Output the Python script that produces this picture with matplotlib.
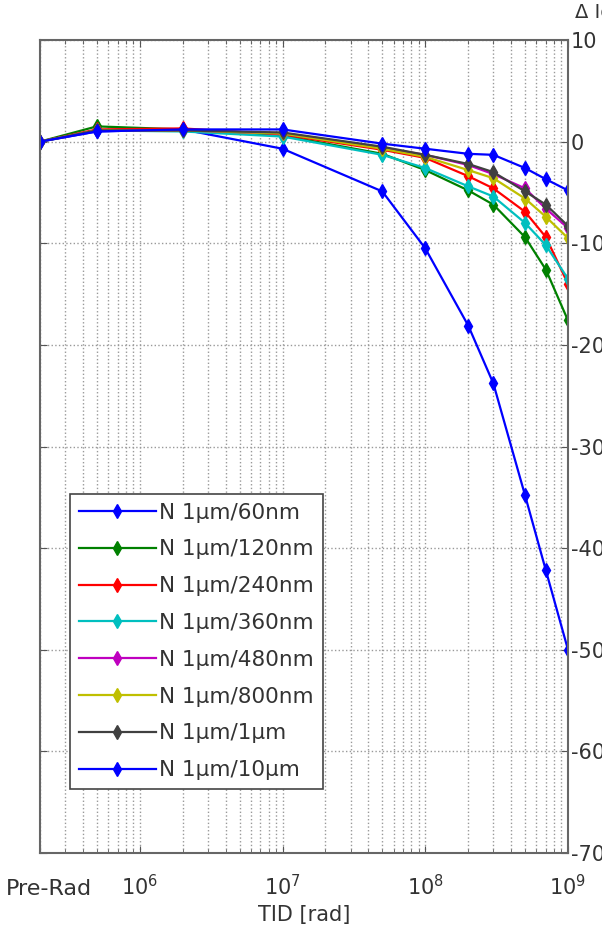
import matplotlib.pyplot as plt
import matplotlib.transforms as mtransforms
from matplotlib.ticker import FixedLocator, LogLocator, NullFormatter

plt.rcParams["axes.unicode_minus"] = False

# TID doses [rad]; 2e5 stands in for the Pre-Rad point at the left edge
tid = [2e5, 5e5, 2e6, 1e7, 5e7, 1e8, 2e8, 3e8, 5e8, 7e8, 1e9]

labels = ["N 1\u00b5m/60nm", "N 1\u00b5m/120nm", "N 1\u00b5m/240nm", "N 1\u00b5m/360nm",
          "N 1\u00b5m/480nm", "N 1\u00b5m/800nm", "N 1\u00b5m/1\u00b5m", "N 1\u00b5m/10\u00b5m"]

d_60nm = [0, 1.0, 1.2, -0.7, -4.9, -10.5, -18.1, -23.8, -34.8, -42.2, -50.0]
d_120nm = [0, 1.5, 1.2, 0.6, -1.2, -2.8, -4.8, -6.2, -9.4, -12.6, -17.6]
d_240nm = [0, 1.2, 1.3, 0.7, -0.8, -1.6, -3.4, -4.6, -6.9, -9.4, -14.0]
d_360nm = [0, 1.1, 1.0, 0.5, -1.3, -2.6, -4.4, -5.4, -8.0, -10.2, -13.5]
d_480nm = [0, 1.1, 1.1, 0.8, -0.6, -1.3, -2.3, -3.2, -4.6, -6.6, -8.5]
d_800nm = [0, 1.1, 1.1, 0.8, -0.7, -1.5, -2.8, -3.6, -5.6, -7.4, -9.5]
d_1um = [0, 1.1, 1.1, 0.9, -0.5, -1.3, -2.2, -3.0, -4.9, -6.2, -8.3]
d_10um = [0, 1.0, 1.2, 1.2, -0.2, -0.7, -1.2, -1.3, -2.6, -3.7, -4.8]

series = [d_60nm, d_120nm, d_240nm, d_360nm, d_480nm, d_800nm, d_1um, d_10um]
colors = [(0, 0, 1), (0, 0.5, 0), (1, 0, 0), (0, 0.75, 0.75),
          (0.75, 0, 0.75), (0.75, 0.75, 0), (0.25, 0.25, 0.25), (0, 0, 1)]

xticks = [2e5, 1e6, 1e7, 1e8, 1e9]
xticklabels = ["Pre-Rad", r"$10^6$", r"$10^7$", r"$10^8$", r"$10^9$"]
yticks = [10, 0, -10, -20, -30, -40, -50, -60, -70]

fig = plt.figure(figsize=(6.02, 9.43), dpi=100)
ax = fig.add_axes([40 / 602, 90 / 943, 528 / 602, 813 / 943])

for y, lab, c in zip(series, labels, colors):
    ax.plot(tid, y, "-", color=c, lw=1.6, marker="d", ms=7, mec=c, mfc=c, label=lab)

ax.set_xscale("log")
ax.set_xlim(2e5, 1e9)
ax.set_ylim(-70, 10)

ax.xaxis.set_major_locator(FixedLocator(xticks))
ax.set_xticklabels(xticklabels)
ax.xaxis.set_minor_locator(LogLocator(base=10, subs=range(2, 10), numticks=20))
ax.xaxis.set_minor_formatter(NullFormatter())
ax.set_yticks(yticks)
ax.yaxis.tick_right()

ax.tick_params(axis="both", which="both", direction="in", top=True, bottom=True,
               left=True, right=True, colors="#555555", labelcolor="#333333", labelsize=15)
ax.tick_params(axis="x", which="major", length=5, pad=15)
ax.tick_params(axis="x", which="minor", length=3)
ax.tick_params(axis="y", length=5, pad=2)

# nudge the Pre-Rad label right and down like the original
pre = ax.get_xticklabels()[0]
pre.set_fontsize(16)
pre.set_transform(pre.get_transform() + mtransforms.ScaledTranslation(9 / 100, -5 / 100, fig.dpi_scale_trans))

ax.grid(True, which="major", axis="both", ls=":", color="#999999", lw=1)
ax.grid(True, which="minor", axis="x", ls=":", color="#999999", lw=1)
for s in ax.spines.values():
    s.set_color("#666666")
    s.set_linewidth(1.5)

ax.set_xlabel("TID [rad]", fontsize=15, color="#333333", labelpad=4)

leg = ax.legend(loc="upper left", bbox_to_anchor=(0.057, 0.4416), borderaxespad=0,
                fontsize=15.5, fancybox=False, edgecolor="#444444", framealpha=1,
                handlelength=3.6, handletextpad=0.15, labelspacing=0.78,
                borderpad=0.4)
leg.get_frame().set_linewidth(1.2)
for t in leg.get_texts():
    t.set_color("#333333")

fig.text(575 / 602, 1 - 12 / 943, "\u0394 Io", fontsize=14, color="#333333",
         va="center", ha="left")

fig.savefig("out.png", dpi=100)
